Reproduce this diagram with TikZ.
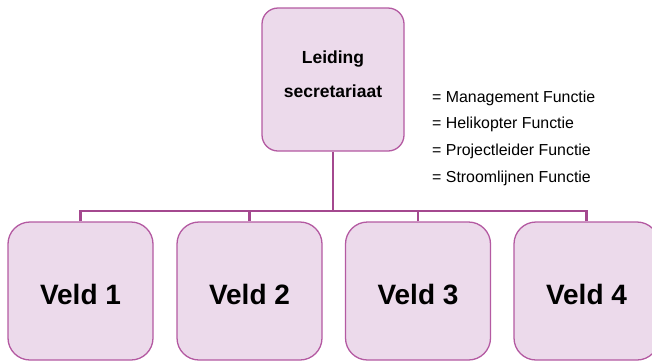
\documentclass[tikz,border=0pt]{standalone}
\usepackage{fontspec}
\setmainfont{Liberation Sans}
\definecolor{boxfill}{HTML}{ECDAEB}
\definecolor{boxline}{HTML}{B45AA2}
\definecolor{connline}{HTML}{A4488F}
\tikzset{
  topbox/.style={draw=boxline, fill=boxfill, line width=1.3pt, rounded corners=16pt,
    minimum width=142pt, minimum height=143pt, inner sep=0pt, align=center,
    font=\fontsize{17.5}{34}\selectfont\bfseries},
  veldbox/.style={draw=boxline, fill=boxfill, line width=1.3pt, rounded corners=22pt,
    minimum width=145pt, minimum height=138pt, inner sep=0pt,
    text height=26pt, text depth=0pt,
    font=\fontsize{28}{32}\selectfont\bfseries},
  legend/.style={anchor=base west, inner sep=0pt, font=\fontsize{15.9}{18}\selectfont},
  conn/.style={draw=connline, line width=2.7pt}
}
\begin{document}
\begin{tikzpicture}[x=1pt,y=-1pt]
\useasboundingbox (0,0) rectangle (652,360);
\node[topbox] (top) at (333,79.5) {Leiding\\secretariaat\rule[-10pt]{0pt}{0pt}};
\node[veldbox] (v1) at (80.5,291) {Veld 1};
\node[veldbox] (v2) at (249.5,291) {Veld 2};
\node[veldbox] (v3) at (418,291) {Veld 3};
\node[veldbox] (v4) at (586.5,291) {Veld 4};
\coordinate (bus) at (333,211);
\draw[conn] (top.south) -- (bus);
\draw[conn] (v1.north) |- (bus);
\draw[conn] (v2.north) |- (bus);
\draw[conn] (v3.north) |- (bus);
\draw[conn] (v4.north) |- (bus);
\node[legend] (l1) at (432,102) {= Management Functie};
\node[legend] (l2) at (432,128) {= Helikopter Functie};
\node[legend] (l3) at (432,155) {= Projectleider Functie};
\node[legend] (l4) at (432,182) {= Stroomlijnen Functie};
\end{tikzpicture}
\end{document}
